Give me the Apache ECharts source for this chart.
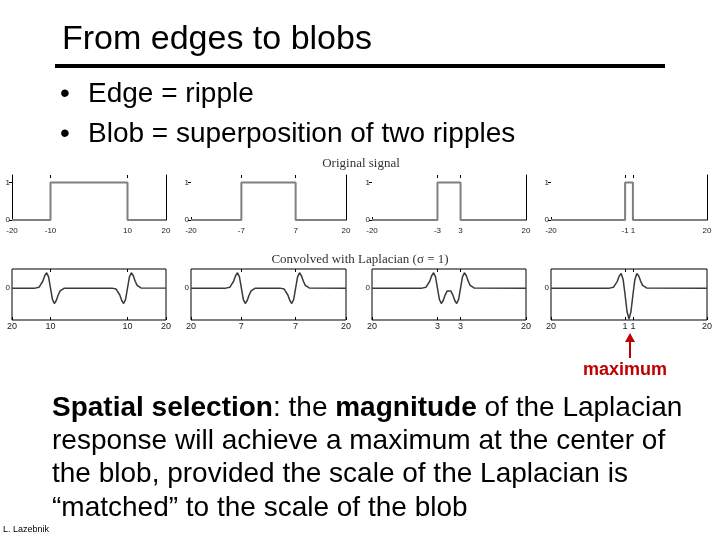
<!DOCTYPE html>
<html><head><meta charset="utf-8">
<script src="https://cdn.jsdelivr.net/npm/echarts@6/dist/echarts.min.js"></script>
<style>html,body{margin:0;padding:0;background:#fff}#c{width:720px;height:540px}</style>
</head><body><div id="c"></div>
<script>
// ---- data ----
const halfWidths = [10, 7, 3, 1];
const tickLabels1 = [-20, -10, 10, 20];
const tickLabels2 = [-20, -7, 7, 20];
const tickLabels3 = [-20, -3, 3, 20];
const tickLabels4 = [-20, -1, 1, 20];

const signal1 = [[-20,0],[-10,0],[-10,1],[10,1],[10,0],[20,0]];
const signal2 = [[-20,0],[-7,0],[-7,1],[7,1],[7,0],[20,0]];
const signal3 = [[-20,0],[-3,0],[-3,1],[3,1],[3,0],[20,0]];
const signal4 = [[-20,0],[-1,0],[-1,1],[1,1],[1,0],[20,0]];

const response1 = [[-20,0],[-14,0],[-13.5,0.003],[-13,0.013],[-12.5,0.044],[-12,0.108],[-11.5,0.194],[-11,0.242],[-10.5,0.176],[-10,0],[-9.5,-0.176],[-9,-0.242],[-8.5,-0.194],[-8,-0.108],[-7.5,-0.044],[-7,-0.013],[-6.5,-0.003],[-6,0],
  [6,0],[6.5,-0.003],[7,-0.013],[7.5,-0.044],[8,-0.108],[8.5,-0.194],[9,-0.242],[9.5,-0.176],[10,0],[10.5,0.176],[11,0.242],[11.5,0.194],[12,0.108],[12.5,0.044],[13,0.013],[13.5,0.003],[14,0],[20,0]];
const response2 = [[-20,0],[-11,0],[-10.5,0.003],[-10,0.013],[-9.5,0.044],[-9,0.108],[-8.5,0.194],[-8,0.242],[-7.5,0.176],[-7,0],[-6.5,-0.176],[-6,-0.242],[-5.5,-0.194],[-5,-0.108],[-4.5,-0.044],[-4,-0.013],[-3.5,-0.003],[-3,0],
  [3,0],[3.5,-0.003],[4,-0.013],[4.5,-0.044],[5,-0.108],[5.5,-0.194],[6,-0.242],[6.5,-0.176],[7,0],[7.5,0.176],[8,0.242],[8.5,0.194],[9,0.108],[9.5,0.044],[10,0.013],[10.5,0.003],[11,0],[20,0]];
const response3 = [[-20,0],[-7,0],[-6.5,0.003],[-6,0.013],[-5.5,0.044],[-5,0.108],[-4.5,0.194],[-4,0.242],[-3.5,0.176],[-3,0],[-2.5,-0.176],[-2,-0.242],[-1.5,-0.194],[-1,-0.109],[-0.5,-0.047],[0,-0.027],[0.5,-0.047],[1,-0.109],[1.5,-0.194],[2,-0.242],[2.5,-0.176],[3,0],[3.5,0.176],[4,0.242],[4.5,0.194],[5,0.108],[5.5,0.044],[6,0.013],[6.5,0.003],[7,0],[20,0]];
const response4 = [[-20,0],[-5,0],[-4.5,0.003],[-4,0.013],[-3.5,0.044],[-3,0.107],[-2.5,0.191],[-2,0.229],[-1.5,0.132],[-1,-0.108],[-0.5,-0.370],[0,-0.484],[0.5,-0.370],[1,-0.108],[1.5,0.132],[2,0.229],[2.5,0.191],[3,0.107],[3.5,0.044],[4,0.013],[4.5,0.003],[5,0],[20,0]];

const signals = [signal1, signal2, signal3, signal4];
const responses = [response1, response2, response3, response4];
const tickLabels = [tickLabels1, tickLabels2, tickLabels3, tickLabels4];

// ---- layout ----
const cols = [[12,166],[191,346],[372,526],[551,707]];
const rows = [{top:175, h:45}, {top:269, h:51}];
const F = '"Liberation Sans", Arial, sans-serif';
const SERIF = '"Liberation Serif", "DejaVu Serif", serif';

const grid = [], xAxis = [], yAxis = [], series = [];
for (let r = 0; r < 2; r++) {
  for (let c = 0; c < 4; c++) {
    const gi = grid.length;
    const L = cols[c][0], R = cols[c][1];
    grid.push({left:L, top:rows[r].top, width:R-L, height:rows[r].h,
      show: r === 1, borderColor:'#000', borderWidth:1, backgroundColor:'transparent'});
    const a = halfWidths[c];
    const xi = xAxis.length;
    xAxis.push({type:'value', gridIndex:gi, min:-20, max:20, position:'bottom',
      axisLine:{show:false, onZero:false}, splitLine:{show:false},
      axisTick:{show:true, customValues:tickLabels[c], inside:true, length:3, lineStyle:{color:'#000'}},
      axisLabel:{show:true, customValues:tickLabels[c], fontSize: r===0?8:9, fontFamily:F, color:'#222', margin: r===0?7:2,
        formatter: v => r===0 ? String(v) : String(Math.abs(v))}});
    xAxis.push({type:'value', gridIndex:gi, min:-20, max:20, position:'top',
      axisLine:{show:false, onZero:false}, splitLine:{show:false}, axisLabel:{show:false},
      axisTick:{show:true, customValues:[-a, a], inside:true, length:3, lineStyle:{color:'#000'}}});
    const yi = yAxis.length;
    if (r === 0) {
      yAxis.push({type:'value', gridIndex:gi, min:0, max:1.2, position:'left',
        axisLine:{show: c===0, onZero:false, lineStyle:{color:'#000'}}, splitLine:{show:false},
        axisTick:{show:true, customValues:[0,1], length:3, lineStyle:{color:'#000'}},
        axisLabel:{customValues:[0,1], fontSize:8, fontFamily:F, color:'#222', margin:2}});
      yAxis.push({type:'value', gridIndex:gi, min:0, max:1.2, position:'right',
        axisLine:{show:true, onZero:false, lineStyle:{color:'#000'}}, splitLine:{show:false},
        axisTick:{show:false}, axisLabel:{show:false}});
      series.push({type:'line', xAxisIndex:xi, yAxisIndex:yi, data:signals[c], showSymbol:false,
        lineStyle:{color:'#808080', width:2}, silent:true, animation:false});
    } else {
      yAxis.push({type:'value', gridIndex:gi, min:-0.5, max:0.3, position:'left',
        axisLine:{show:false, onZero:false}, splitLine:{show:false},
        axisTick:{show:true, customValues:[0], inside:true, length:3, lineStyle:{color:'#000'}},
        axisLabel:{customValues:[0], fontSize:8, fontFamily:F, color:'#222', margin:2, formatter:()=> '0'}});
      series.push({type:'line', xAxisIndex:xi, yAxisIndex:yi, data:responses[c], showSymbol:false,
        lineStyle:{color:'#3a3a3a', width:1.5}, silent:true, animation:false});
    }
  }
}

const txt = (x, y, text, font, extra) => Object.assign({type:'text', x, y,
  style:Object.assign({text, font, fill:'#000', verticalAlign:'middle', textAlign:'left'}, extra||{})});
const richB = {b:{fontWeight:'bold', fontSize:28, fontFamily:F, fill:'#000'}};

const graphic = [
  txt(62, 40, 'From edges to blobs', '34px ' + F),
  {type:'rect', shape:{x:55, y:64, width:610, height:4}, style:{fill:'#000'}},
  txt(60, 94, '•', '28px ' + F),
  txt(88, 94, 'Edge = ripple', '28px ' + F),
  txt(60, 134, '•', '28px ' + F),
  txt(88, 134, 'Blob = superposition of two ripples', '28px ' + F),
  txt(361, 164, 'Original signal', '13px ' + SERIF, {textAlign:'center', fill:'#333'}),
  txt(360, 260, 'Convolved with Laplacian (σ = 1)', '13px ' + SERIF, {textAlign:'center', fill:'#333'}),
  {type:'line', shape:{x1:630, y1:358, x2:630, y2:340}, style:{stroke:'#c00000', lineWidth:2}},
  {type:'polygon', shape:{points:[[625,342],[635,342],[630,333]]}, style:{fill:'#c00000'}},
  txt(625, 370, 'maximum', 'bold 18px ' + F, {textAlign:'center', fill:'#c00000'}),
  {type:'text', x:52, y:408, style:{text:'{b|Spatial selection}: the {b|magnitude} of the Laplacian', font:'28px ' + F, fill:'#000', verticalAlign:'middle', rich:richB}},
  txt(52, 441, 'response will achieve a maximum at the center of', '28px ' + F),
  txt(52, 474, 'the blob, provided the scale of the Laplacian is', '28px ' + F),
  txt(52, 508, '\u201cmatched\u201d to the scale of the blob', '28px ' + F),
  txt(3, 530, 'L. Lazebnik', '9px ' + F)
];

const chart = echarts.init(document.getElementById('c'), null, {renderer:'canvas'});
chart.setOption({backgroundColor:'#fff', animation:false, grid, xAxis, yAxis, series, graphic});
</script></body></html>
